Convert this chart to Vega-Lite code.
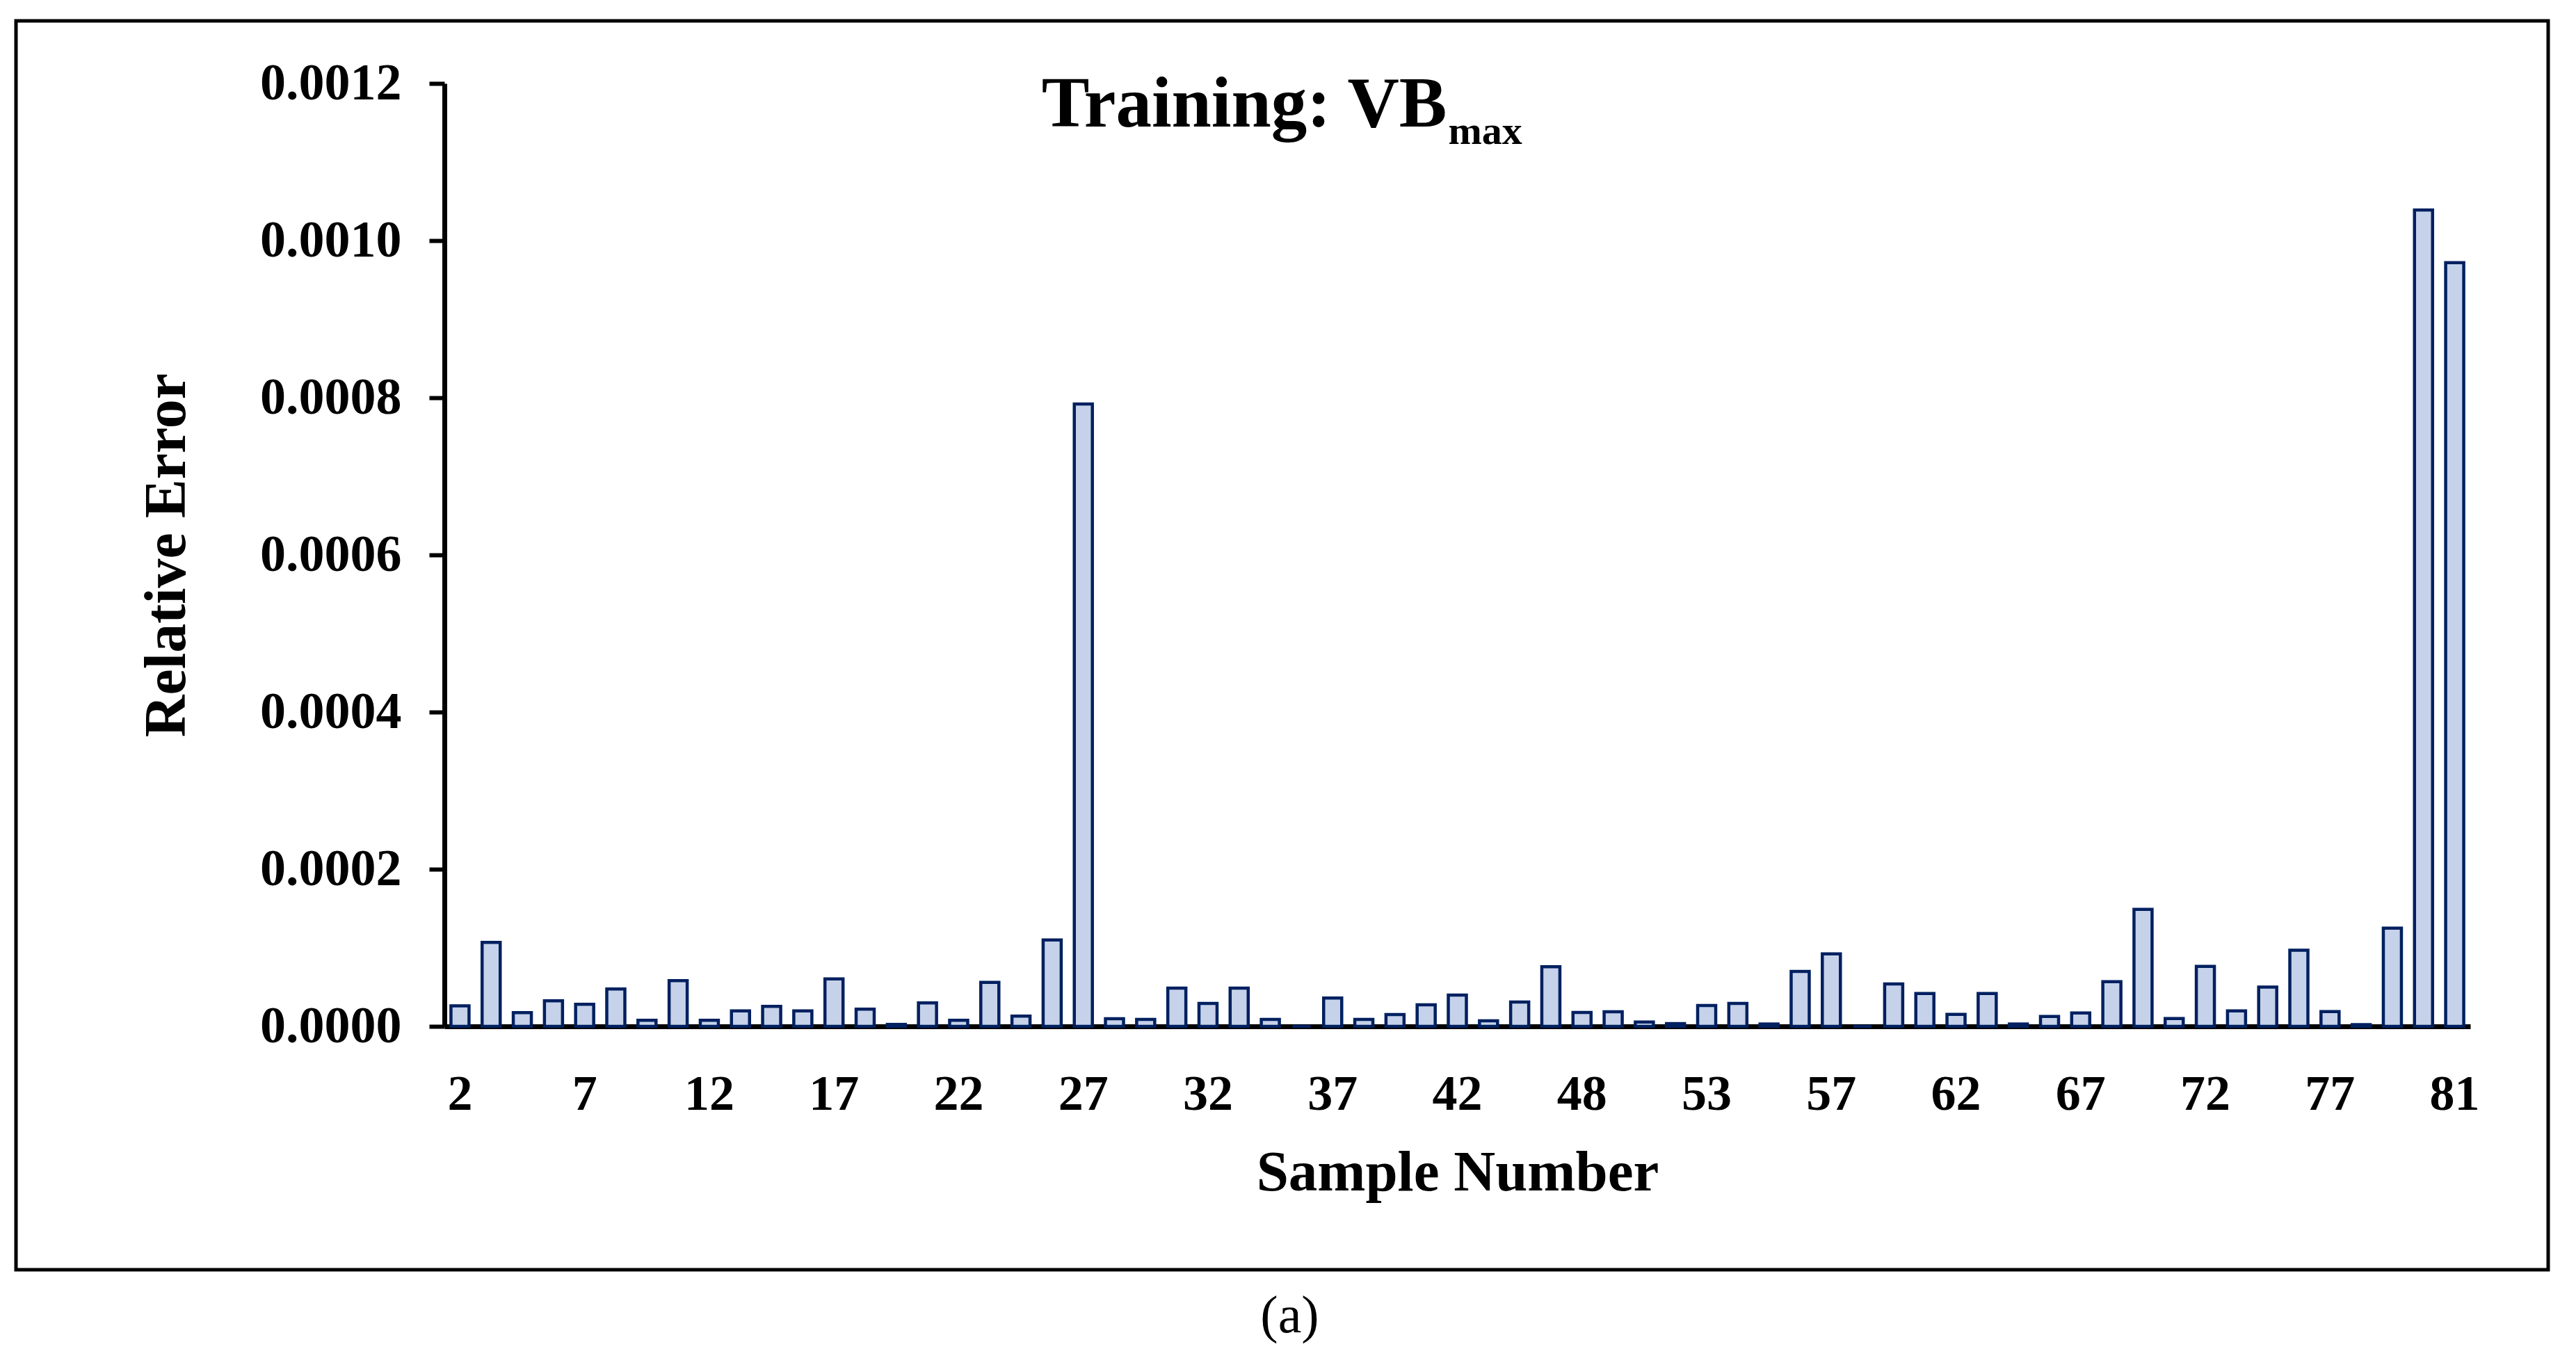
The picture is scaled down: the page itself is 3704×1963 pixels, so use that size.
{
  "$schema": "https://vega.github.io/schema/vega-lite/v6.json",
  "width": 3641,
  "height": 1796,
  "autosize": {"type": "none"},
  "padding": {"left": 23, "top": 30, "right": 40, "bottom": 137},
  "background": "white",
  "title": {
    "text": "(a)",
    "orient": "bottom",
    "offset": 30,
    "dx": 11,
    "font": "Liberation Serif",
    "fontWeight": "normal",
    "fontSize": 76,
    "color": "black"
  },
  "layer": [
    {
      "data": {
        "values": [
          {"sample": 2, "err": 0.000026},
          {"sample": 3, "err": 0.0001068},
          {"sample": 4, "err": 0.0000174},
          {"sample": 5, "err": 0.0000325},
          {"sample": 7, "err": 0.000028},
          {"sample": 8, "err": 0.0000475},
          {"sample": 9, "err": 0.0000077},
          {"sample": 10, "err": 0.0000581},
          {"sample": 12, "err": 0.0000077},
          {"sample": 13, "err": 0.0000198},
          {"sample": 14, "err": 0.0000254},
          {"sample": 15, "err": 0.0000198},
          {"sample": 17, "err": 0.0000605},
          {"sample": 18, "err": 0.0000218},
          {"sample": 19, "err": 0.0000025},
          {"sample": 20, "err": 0.0000298},
          {"sample": 22, "err": 0.0000077},
          {"sample": 23, "err": 0.000056},
          {"sample": 25, "err": 0.000013},
          {"sample": 26, "err": 0.00011},
          {"sample": 27, "err": 0.000792},
          {"sample": 28, "err": 0.0000097},
          {"sample": 29, "err": 0.0000089},
          {"sample": 30, "err": 0.0000487},
          {"sample": 32, "err": 0.0000292},
          {"sample": 33, "err": 0.0000487},
          {"sample": 34, "err": 0.0000089},
          {"sample": 35, "err": 0},
          {"sample": 37, "err": 0.000036},
          {"sample": 38, "err": 0.0000089},
          {"sample": 39, "err": 0.000015},
          {"sample": 40, "err": 0.0000274},
          {"sample": 42, "err": 0.0000398},
          {"sample": 43, "err": 0.0000071},
          {"sample": 44, "err": 0.000031},
          {"sample": 46, "err": 0.0000758},
          {"sample": 48, "err": 0.0000177},
          {"sample": 49, "err": 0.0000186},
          {"sample": 50, "err": 0.0000055},
          {"sample": 51, "err": 0.0000035},
          {"sample": 53, "err": 0.0000266},
          {"sample": 54, "err": 0.0000292},
          {"sample": 55, "err": 0.0000030},
          {"sample": 56, "err": 0.00007},
          {"sample": 57, "err": 0.0000923},
          {"sample": 58, "err": 0},
          {"sample": 60, "err": 0.000054},
          {"sample": 61, "err": 0.0000419},
          {"sample": 62, "err": 0.0000153},
          {"sample": 63, "err": 0.0000419},
          {"sample": 64, "err": 0.000003},
          {"sample": 65, "err": 0.0000127},
          {"sample": 67, "err": 0.0000171},
          {"sample": 68, "err": 0.0000569},
          {"sample": 70, "err": 0.000149},
          {"sample": 71, "err": 0.00001},
          {"sample": 72, "err": 0.0000764},
          {"sample": 73, "err": 0.0000198},
          {"sample": 74, "err": 0.0000499},
          {"sample": 76, "err": 0.0000968},
          {"sample": 77, "err": 0.0000189},
          {"sample": 78, "err": 0.0000022},
          {"sample": 79, "err": 0.0001251},
          {"sample": 80, "err": 0.001039},
          {"sample": 81, "err": 0.000972}
        ]
      },
      "mark": {"type": "bar", "fill": "#c6d2ea", "stroke": "#002060", "strokeWidth": 4.5},
      "encoding": {
        "x": {
          "field": "sample",
          "type": "ordinal",
          "title": "Sample Number",
          "scale": {"range": [616, 3529], "paddingInner": 0.42, "paddingOuter": 0.21},
          "axis": {
            "values": [2, 7, 12, 17, 22, 27, 32, 37, 42, 48, 53, 57, 62, 67, 72, 77, 81],
            "labelAngle": 0,
            "offset": -350,
            "ticks": false,
            "tickSize": 0,
            "labelPadding": 62,
            "labelOverlap": false,
            "labelFontSize": 72,
            "labelFontWeight": "bold",
            "domainWidth": 7,
            "titleFontSize": 83,
            "titleFontWeight": "bold",
            "titlePadding": 36
          }
        },
        "y": {
          "field": "err",
          "type": "quantitative",
          "title": "Relative Error",
          "scale": {"domain": [0, 0.0012], "range": [1446, 90], "nice": false},
          "axis": {
            "values": [0, 0.0002, 0.0004, 0.0006, 0.0008, 0.001, 0.0012],
            "format": ".4f",
            "offset": -616,
            "tickSize": 22,
            "tickWidth": 6,
            "labelPadding": 40,
            "labelLimit": 500,
            "labelFontSize": 74,
            "labelFontWeight": "bold",
            "domainWidth": 7,
            "titleFontSize": 84,
            "titleFontWeight": "bold",
            "titlePadding": 156
          }
        }
      }
    },
    {
      "data": {"values": [{"sample": 42, "err": 0.001145, "label": "Training: VB"}]},
      "mark": {
        "type": "text",
        "align": "right",
        "baseline": "alphabetic",
        "dx": -15,
        "font": "Liberation Serif",
        "fontWeight": "bold",
        "fontSize": 103,
        "color": "black"
      },
      "encoding": {
        "x": {"field": "sample", "type": "ordinal", "title": "Sample Number"},
        "y": {"field": "err", "type": "quantitative", "title": "Relative Error"},
        "text": {"field": "label"}
      }
    },
    {
      "data": {"values": [{"sample": 42, "err": 0.001145, "label": "max"}]},
      "mark": {
        "type": "text",
        "align": "left",
        "baseline": "alphabetic",
        "dx": -13,
        "dy": 25,
        "font": "Liberation Serif",
        "fontWeight": "bold",
        "fontSize": 58,
        "color": "black"
      },
      "encoding": {
        "x": {"field": "sample", "type": "ordinal", "title": "Sample Number"},
        "y": {"field": "err", "type": "quantitative", "title": "Relative Error"},
        "text": {"field": "label"}
      }
    }
  ],
  "config": {
    "view": {"stroke": "black", "strokeWidth": 5},
    "axis": {
      "grid": false,
      "domainColor": "black",
      "tickColor": "black",
      "labelColor": "black",
      "titleColor": "black",
      "labelFont": "Liberation Serif",
      "titleFont": "Liberation Serif"
    }
  }
}
